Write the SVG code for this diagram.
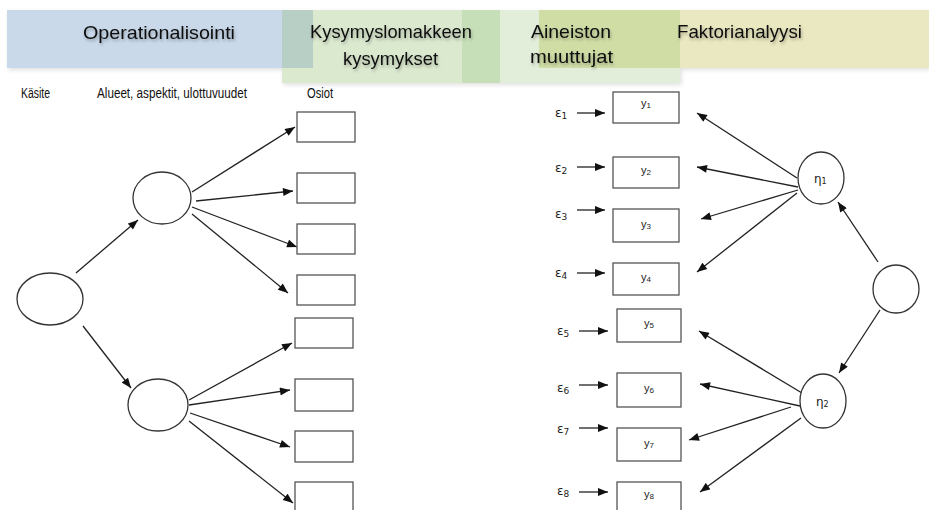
<svg xmlns="http://www.w3.org/2000/svg" width="929" height="510" viewBox="0 0 929 510">
<style>
.hd{font-family:"Liberation Sans",Arial,sans-serif;font-size:19px;fill:#111;filter:url(#tsh)}
.sm{font-family:"Liberation Sans",Arial,sans-serif;font-size:14px;fill:#111}
.lb{font-family:"Liberation Sans",Arial,sans-serif;font-size:11px;fill:#222;text-anchor:middle}
.gk{font-family:"DejaVu Sans","Liberation Sans",sans-serif;font-size:12px;fill:#222}
.box{fill:#fff;stroke:#555;stroke-width:1.3}
.ell{fill:#fff;stroke:#333;stroke-width:1.3}
.ar{stroke:#222;stroke-width:1.3;fill:none;marker-end:url(#ah)}
</style>
<defs>
<marker id="ah" viewBox="0 0 10 8" refX="10" refY="4" markerWidth="11" markerHeight="8" markerUnits="userSpaceOnUse" orient="auto"><path d="M0,0 L10,4 L0,8z" fill="#111"/></marker>
<filter id="bsh" x="-5%" y="-20%" width="110%" height="150%"><feDropShadow dx="1.5" dy="2" stdDeviation="2" flood-color="#000" flood-opacity="0.12"/></filter>
<filter id="tsh" x="-10%" y="-30%" width="120%" height="180%"><feDropShadow dx="1" dy="2" stdDeviation="1.5" flood-color="#000" flood-opacity="0.3"/></filter>
</defs>
<g id="bands" filter="url(#bsh)">
<rect x="7" y="10" width="306" height="58" fill="#c9d9ea"/>
<rect x="282" y="10" width="218" height="73" fill="#dbe9cf"/>
<rect x="282" y="10" width="31" height="58" fill="#b7cfc5"/>
<rect x="462" y="10" width="218" height="73" fill="#e2eed9"/>
<rect x="462" y="10" width="38" height="73" fill="#c7dfb8"/>
<rect x="539" y="10" width="390" height="58" fill="#eae8c0"/>
<rect x="539" y="10" width="141" height="58" fill="#d0dea6"/>
</g>
<g id="headers">
<text class="hd" x="83" y="39" textLength="152" lengthAdjust="spacingAndGlyphs">Operationalisointi</text>
<text class="hd" x="310" y="38" textLength="162" lengthAdjust="spacingAndGlyphs">Kysymyslomakkeen</text>
<text class="hd" x="343" y="65" textLength="95" lengthAdjust="spacingAndGlyphs">kysymykset</text>
<text class="hd" x="531" y="38" textLength="80" lengthAdjust="spacingAndGlyphs">Aineiston</text>
<text class="hd" x="530" y="63" textLength="83" lengthAdjust="spacingAndGlyphs">muuttujat</text>
<text class="hd" x="677" y="38" textLength="125" lengthAdjust="spacingAndGlyphs">Faktorianalyysi</text>
</g>
<g id="colheads">
<text class="sm" x="21" y="98" textLength="29" lengthAdjust="spacingAndGlyphs">Käsite</text>
<text class="sm" x="97" y="98" textLength="150" lengthAdjust="spacingAndGlyphs">Alueet, aspektit, ulottuvuudet</text>
<text class="sm" x="307" y="98" textLength="26" lengthAdjust="spacingAndGlyphs">Osiot</text>
</g>
<g id="connectors">
<line class="ar" x1="76" y1="273" x2="138" y2="220"/>
<line class="ar" x1="83" y1="326" x2="131" y2="388"/>
<line class="ar" x1="192" y1="192" x2="295" y2="127"/>
<line class="ar" x1="196" y1="201" x2="293" y2="191"/>
<line class="ar" x1="192" y1="207" x2="297" y2="247"/>
<line class="ar" x1="192" y1="214" x2="288" y2="293"/>
<line class="ar" x1="189" y1="400" x2="292" y2="343"/>
<line class="ar" x1="189" y1="405" x2="290" y2="390"/>
<line class="ar" x1="190" y1="413" x2="290" y2="447"/>
<line class="ar" x1="189" y1="421" x2="293" y2="503"/>
<line class="ar" x1="577" y1="113" x2="605" y2="113"/>
<line class="ar" x1="577" y1="167" x2="605" y2="167"/>
<line class="ar" x1="577" y1="210" x2="605" y2="210"/>
<line class="ar" x1="577" y1="273" x2="605" y2="273"/>
<line class="ar" x1="579" y1="331" x2="608" y2="331"/>
<line class="ar" x1="579" y1="385" x2="608" y2="385"/>
<line class="ar" x1="579" y1="428" x2="608" y2="428"/>
<line class="ar" x1="579" y1="492" x2="608" y2="492"/>
<line class="ar" x1="797" y1="178" x2="697" y2="113"/>
<line class="ar" x1="798" y1="187" x2="697" y2="167"/>
<line class="ar" x1="798" y1="190" x2="701" y2="219"/>
<line class="ar" x1="797" y1="193" x2="697" y2="272"/>
<line class="ar" x1="878" y1="262" x2="838" y2="202"/>
<line class="ar" x1="880" y1="310" x2="839" y2="373"/>
<line class="ar" x1="802" y1="393" x2="699" y2="331"/>
<line class="ar" x1="800" y1="406" x2="700" y2="384"/>
<line class="ar" x1="791" y1="407" x2="689" y2="440"/>
<line class="ar" x1="801" y1="418" x2="700" y2="492"/>
</g>
<g id="kasite"><ellipse class="ell" cx="50" cy="299" rx="33" ry="26"/></g>
<g id="alue1"><ellipse class="ell" cx="162" cy="198" rx="29" ry="26"/></g>
<g id="alue2"><ellipse class="ell" cx="158" cy="405" rx="30" ry="26"/></g>
<g id="osio1"><rect class="box" x="297" y="112" width="58" height="30"/></g>
<g id="osio2"><rect class="box" x="297" y="173" width="58" height="30"/></g>
<g id="osio3"><rect class="box" x="297" y="224" width="58" height="30"/></g>
<g id="osio4"><rect class="box" x="297" y="275" width="58" height="30"/></g>
<g id="osio5"><rect class="box" x="295" y="318" width="58" height="30"/></g>
<g id="osio6"><rect class="box" x="295" y="379" width="58" height="32"/></g>
<g id="osio7"><rect class="box" x="295" y="431" width="58" height="31"/></g>
<g id="osio8"><rect class="box" x="295" y="482" width="58" height="32"/></g>
<g id="y1"><rect class="box" x="613" y="92" width="66" height="31"/><text class="lb" x="646" y="107">y<tspan font-size="8" dy="1">1</tspan></text></g>
<g id="y2"><rect class="box" x="613" y="157" width="66" height="31"/><text class="lb" x="646" y="174">y<tspan font-size="8" dy="1">2</tspan></text></g>
<g id="y3"><rect class="box" x="613" y="209" width="66" height="33"/><text class="lb" x="646" y="228">y<tspan font-size="8" dy="1">3</tspan></text></g>
<g id="y4"><rect class="box" x="613" y="263" width="66" height="32"/><text class="lb" x="646" y="281">y<tspan font-size="8" dy="1">4</tspan></text></g>
<g id="y5"><rect class="box" x="617" y="309" width="64" height="33"/><text class="lb" x="649" y="327">y<tspan font-size="8" dy="1">5</tspan></text></g>
<g id="y6"><rect class="box" x="617" y="373" width="64" height="34"/><text class="lb" x="649" y="392">y<tspan font-size="8" dy="1">6</tspan></text></g>
<g id="y7"><rect class="box" x="617" y="428" width="64" height="33"/><text class="lb" x="649" y="447">y<tspan font-size="8" dy="1">7</tspan></text></g>
<g id="y8"><rect class="box" x="617" y="482" width="64" height="32"/><text class="lb" x="649" y="498">y<tspan font-size="8" dy="1">8</tspan></text></g>
<g id="eps">
<text class="gk" x="555" y="117">ε<tspan font-size="9" dy="2">1</tspan></text>
<text class="gk" x="555" y="172">ε<tspan font-size="9" dy="2">2</tspan></text>
<text class="gk" x="555" y="218">ε<tspan font-size="9" dy="2">3</tspan></text>
<text class="gk" x="555" y="277">ε<tspan font-size="9" dy="2">4</tspan></text>
<text class="gk" x="557" y="335">ε<tspan font-size="9" dy="2">5</tspan></text>
<text class="gk" x="557" y="392">ε<tspan font-size="9" dy="2">6</tspan></text>
<text class="gk" x="557" y="433">ε<tspan font-size="9" dy="2">7</tspan></text>
<text class="gk" x="557" y="495">ε<tspan font-size="9" dy="2">8</tspan></text>
</g>
<g id="eta1"><ellipse class="ell" cx="821" cy="178" rx="23" ry="26"/><text class="gk" x="814" y="183" font-size="11">η<tspan font-size="8" dy="1">1</tspan></text></g>
<g id="eta2"><ellipse class="ell" cx="823" cy="401" rx="23" ry="27"/><text class="gk" x="816" y="406" font-size="11">η<tspan font-size="8" dy="1">2</tspan></text></g>
<g id="yleinen"><ellipse class="ell" cx="896" cy="289" rx="23" ry="24"/></g>
</svg>
